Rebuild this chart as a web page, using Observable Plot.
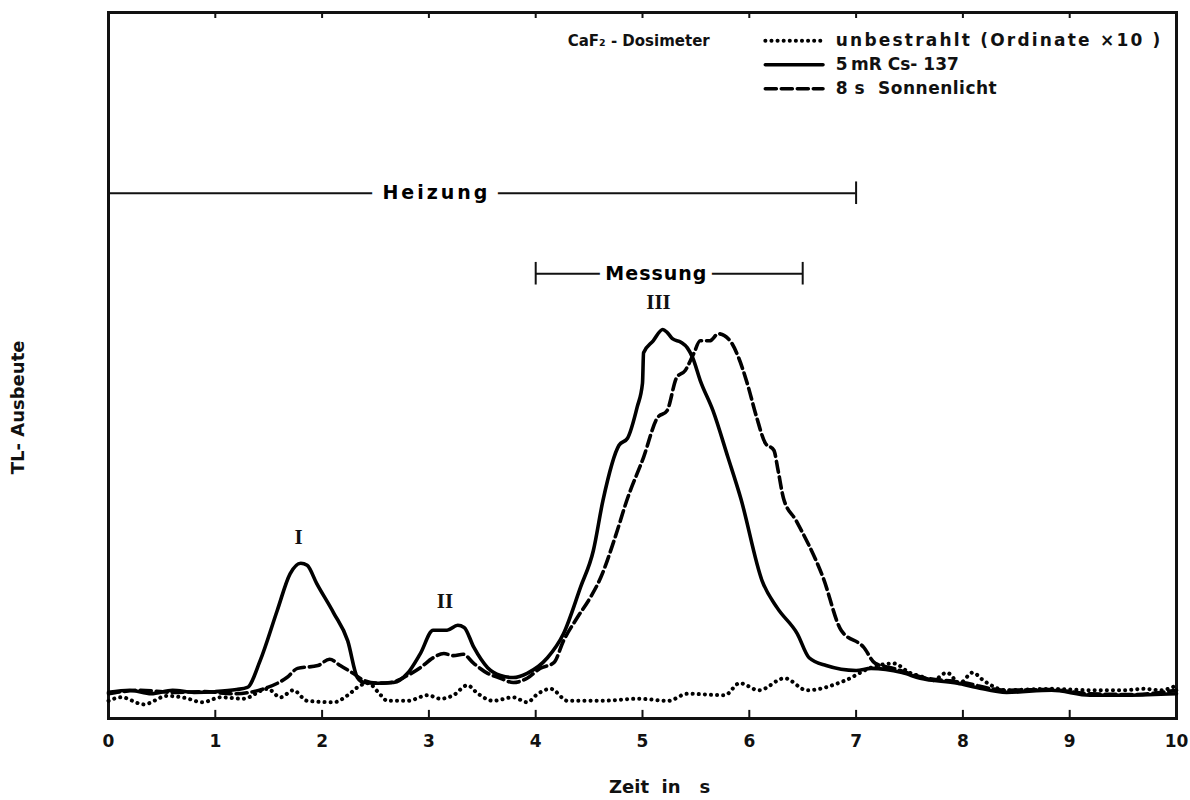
<!DOCTYPE html>
<html><head><meta charset="utf-8">
<script src="https://cdn.jsdelivr.net/npm/d3@7"></script>
<script src="https://cdn.jsdelivr.net/npm/@observablehq/plot@0.6"></script>
<style>
body{margin:0;background:#fff;}
#chart svg{font-family:"DejaVu Sans",sans-serif;}
</style></head><body><div id="chart"></div>
<script>
// ---- data ----
const xTicks = [0,1,2,3,4,5,6,7,8,9,10];
const seriesNames = ["unbestrahlt (Ordinate \u00d710 )", "5\u2009mR Cs- 137", "8 s\u00a0\u00a0Sonnenlicht"];
const titleText = "CaF\u2082 - Dosimeter";

// 5 mR Cs-137 (solid)
const tSolid = [0,0.2,0.4,0.6,0.8,1.0,1.2,1.3,1.42,1.58,1.70,1.80,1.86,1.95,2.11,2.24,2.33,2.39,2.52,2.67,2.80,2.92,3.04,3.17,3.27,3.33,3.42,3.55,3.67,3.79,3.92,4.11,4.26,4.42,4.54,4.63,4.78,4.86,4.95,5.00,5.01,5.10,5.19,5.23,5.28,5.36,5.42,5.47,5.54,5.66,5.80,5.92,6.12,6.26,6.45,6.56,6.72,7.00,7.14,7.43,7.60,7.95,8.13,8.41,8.83,9.19,9.54,10.0];
const ySolid = [3.7,4.0,3.5,4.0,3.7,3.8,4.1,4.4,8.2,15.3,20.5,22.0,21.7,19.1,14.9,11.0,5.8,5.1,5.0,5.1,6.4,9.2,12.5,12.5,13.2,12.9,10.1,7.2,6.1,5.8,6.4,8.6,12.0,18.6,23.8,30.9,38.7,39.7,44.1,47.5,51.8,53.5,55.1,54.7,53.8,53.3,52.5,51.1,47.9,43.6,37.0,31.2,19.5,15.7,12.0,8.6,7.5,6.8,7.1,6.5,5.7,5.0,4.4,3.7,4.0,3.3,3.3,3.5];

// 8 s Sonnenlicht (dashed)
const tDash = [0,0.3,0.6,0.9,1.17,1.49,1.67,1.77,1.96,2.07,2.17,2.29,2.39,2.52,2.64,2.80,2.92,3.04,3.14,3.23,3.32,3.42,3.55,3.67,3.79,3.92,4.04,4.17,4.26,4.39,4.51,4.61,4.74,4.86,5.01,5.14,5.23,5.32,5.40,5.48,5.54,5.63,5.71,5.82,5.90,5.98,6.07,6.15,6.23,6.27,6.32,6.44,6.69,6.86,7.07,7.18,7.35,7.6,8.0,8.4,8.8,9.2,9.6,10.0];
const yDash = [3.5,4.0,3.7,3.8,3.5,4.4,5.8,7.1,7.5,8.4,7.5,6.4,5.4,5.0,5.1,6.1,7.2,8.6,9.2,8.9,9.1,7.8,6.4,5.7,5.1,5.7,7.1,7.9,11.0,14.3,17.1,20.0,25.5,31.2,37.0,42.6,43.6,48.3,49.3,51.7,53.5,53.5,54.5,53.5,51.1,47.5,42.6,39.0,38.0,35.1,31.2,28.0,20.0,12.5,10.1,7.8,7.1,5.9,5.1,4.0,4.1,3.5,3.4,4.0];

// unbestrahlt, ordinate x10 (dotted)
const tDot = [0,0.12,0.33,0.55,0.72,0.88,1.05,1.26,1.49,1.61,1.73,1.86,2.11,2.24,2.36,2.43,2.55,2.61,2.80,2.99,3.11,3.23,3.36,3.46,3.60,3.79,3.92,4.02,4.14,4.30,4.61,4.96,5.24,5.42,5.77,5.91,6.09,6.33,6.54,6.90,7.14,7.35,7.5,7.62,7.72,7.85,7.97,8.09,8.2,8.4,8.83,9.2,9.5,9.7,9.85,10.0];
const yDot = [2.5,3.0,2.0,3.2,2.9,2.3,3.0,2.8,4.2,3.0,4.0,2.5,2.3,3.3,4.7,5.0,3.3,2.5,2.5,3.3,2.8,3.3,4.7,3.5,2.5,3.0,2.3,3.5,4.2,2.5,2.5,2.8,2.5,3.5,3.3,5.0,4.0,5.7,4.0,5.4,7.2,7.8,6.5,5.9,5.4,6.5,5.0,6.5,5.3,4.0,4.2,4.0,4.0,4.2,4.0,4.7];

// peaks
const peakNames = ["I","II","III"];
const peakT = [1.78,3.15,5.15];
const peakY = [25.6,16.6,58.9];

// heating / measuring intervals (s)
const heizung = [0,7];
const messung = [4,6.5];
const intervalNames = ["Heizung", "Messung"];

// ---- layout (not data) ----
const L = {
  heizY: 74.4, messY: 63.0, endTick: 1.6,
  heizLabelT: 3.07, messLabelT: 5.13,
  titleT: 4.30, rowY: [96.0, 92.6, 89.2],
  sampleT: [6.15, 6.69], legendTextT: 6.81,
  xLabelT: 5.16, yLabelY: 34.6,
  tickLenBottom: 1.15, tickLenTop: 0.85
};

const rows = (t, y) => t.map((x, i) => ({t: x, v: y[i]}));
const styles = [
  {strokeDasharray: "0.1 6", strokeLinecap: "round", strokeWidth: 4},
  {strokeWidth: 3.6, strokeLinecap: "round"},
  {strokeDasharray: "11 5", strokeWidth: 3.6}
];
const series = [rows(tDot, yDot), rows(tSolid, ySolid), rows(tDash, yDash)];

const marks = [
  Plot.frame({strokeWidth: 3}),
  Plot.axisX(xTicks, {anchor: "bottom", tickSize: 0, tickPadding: 16, fontSize: 17, fontWeight: "bold", label: null}),
  Plot.ruleX(xTicks.slice(1, -1), {y1: 0, y2: L.tickLenBottom, strokeWidth: 2}),
  Plot.ruleX(xTicks.slice(1, -1), {y1: 100 - L.tickLenTop, y2: 100, strokeWidth: 2}),
  // intervals
  Plot.ruleY([L.heizY], {x1: heizung[0], x2: heizung[1], strokeWidth: 2}),
  Plot.ruleX(heizung, {y1: L.heizY - L.endTick, y2: L.heizY + L.endTick, strokeWidth: 2}),
  Plot.text([intervalNames[0]], {x: L.heizLabelT, y: L.heizY, fill: "black", stroke: "white", strokeWidth: 24, fontSize: 19, fontWeight: "bold"}),
  Plot.ruleY([L.messY], {x1: messung[0], x2: messung[1], strokeWidth: 2}),
  Plot.ruleX(messung, {y1: L.messY - L.endTick, y2: L.messY + L.endTick, strokeWidth: 2}),
  Plot.text([intervalNames[1]], {x: L.messLabelT, y: L.messY, fill: "black", stroke: "white", strokeWidth: 14, fontSize: 19, fontWeight: "bold"}),
  // curves
  ...series.map((d, i) => Plot.line(d, {x: "t", y: "v", curve: "monotone-x", stroke: "black", strokeLinejoin: "round", ...styles[i]})),
  // peak labels
  Plot.text(peakNames, {x: (d, i) => peakT[i], y: (d, i) => peakY[i], text: d => d, fontFamily: "Liberation Serif", fontWeight: "bold", fontSize: 21}),
  // legend
  Plot.text([titleText], {x: L.titleT, y: L.rowY[0], textAnchor: "start", fontSize: 15, fontWeight: "bold"}),
  ...seriesNames.map((name, i) => Plot.line(L.sampleT.map(t => ({t, v: L.rowY[i]})), {x: "t", y: "v", stroke: "black", ...styles[i]})),
  Plot.text(seriesNames, {x: L.legendTextT, y: (d, i) => L.rowY[i], textAnchor: "start", fontSize: 17, fontWeight: "bold"}),
  // axis titles
  Plot.text(["Zeit\u00a0\u00a0in\u00a0\u00a0\u00a0s"], {x: L.xLabelT, frameAnchor: "bottom", dy: 74, fontSize: 18, fontWeight: "bold"}),
  Plot.text(["TL- Ausbeute"], {y: L.yLabelY, frameAnchor: "left", dx: -90, rotate: -90, fontSize: 18, fontWeight: "bold"})
];

const chart = Plot.plot({
  width: 1190, height: 800,
  marginLeft: 108, marginRight: 14, marginTop: 12, marginBottom: 82,
  x: {domain: [0, 10]},
  y: {domain: [0, 100], axis: null},
  style: {background: "#fff", color: "#111", fontFamily: "DejaVu Sans", overflow: "visible"},
  marks
});
// letter spacing for a few labels (typographic styling only)
const spacing = new Map([[intervalNames[0], "3px"], [intervalNames[1], "1px"], [seriesNames[0], "2.2px"], [seriesNames[2], "0.5px"]]);
d3.select(chart).selectAll("text").each(function() {
  const s = spacing.get(this.textContent);
  if (s) this.setAttribute("letter-spacing", s);
});
document.getElementById("chart").append(chart);
</script></body></html>
